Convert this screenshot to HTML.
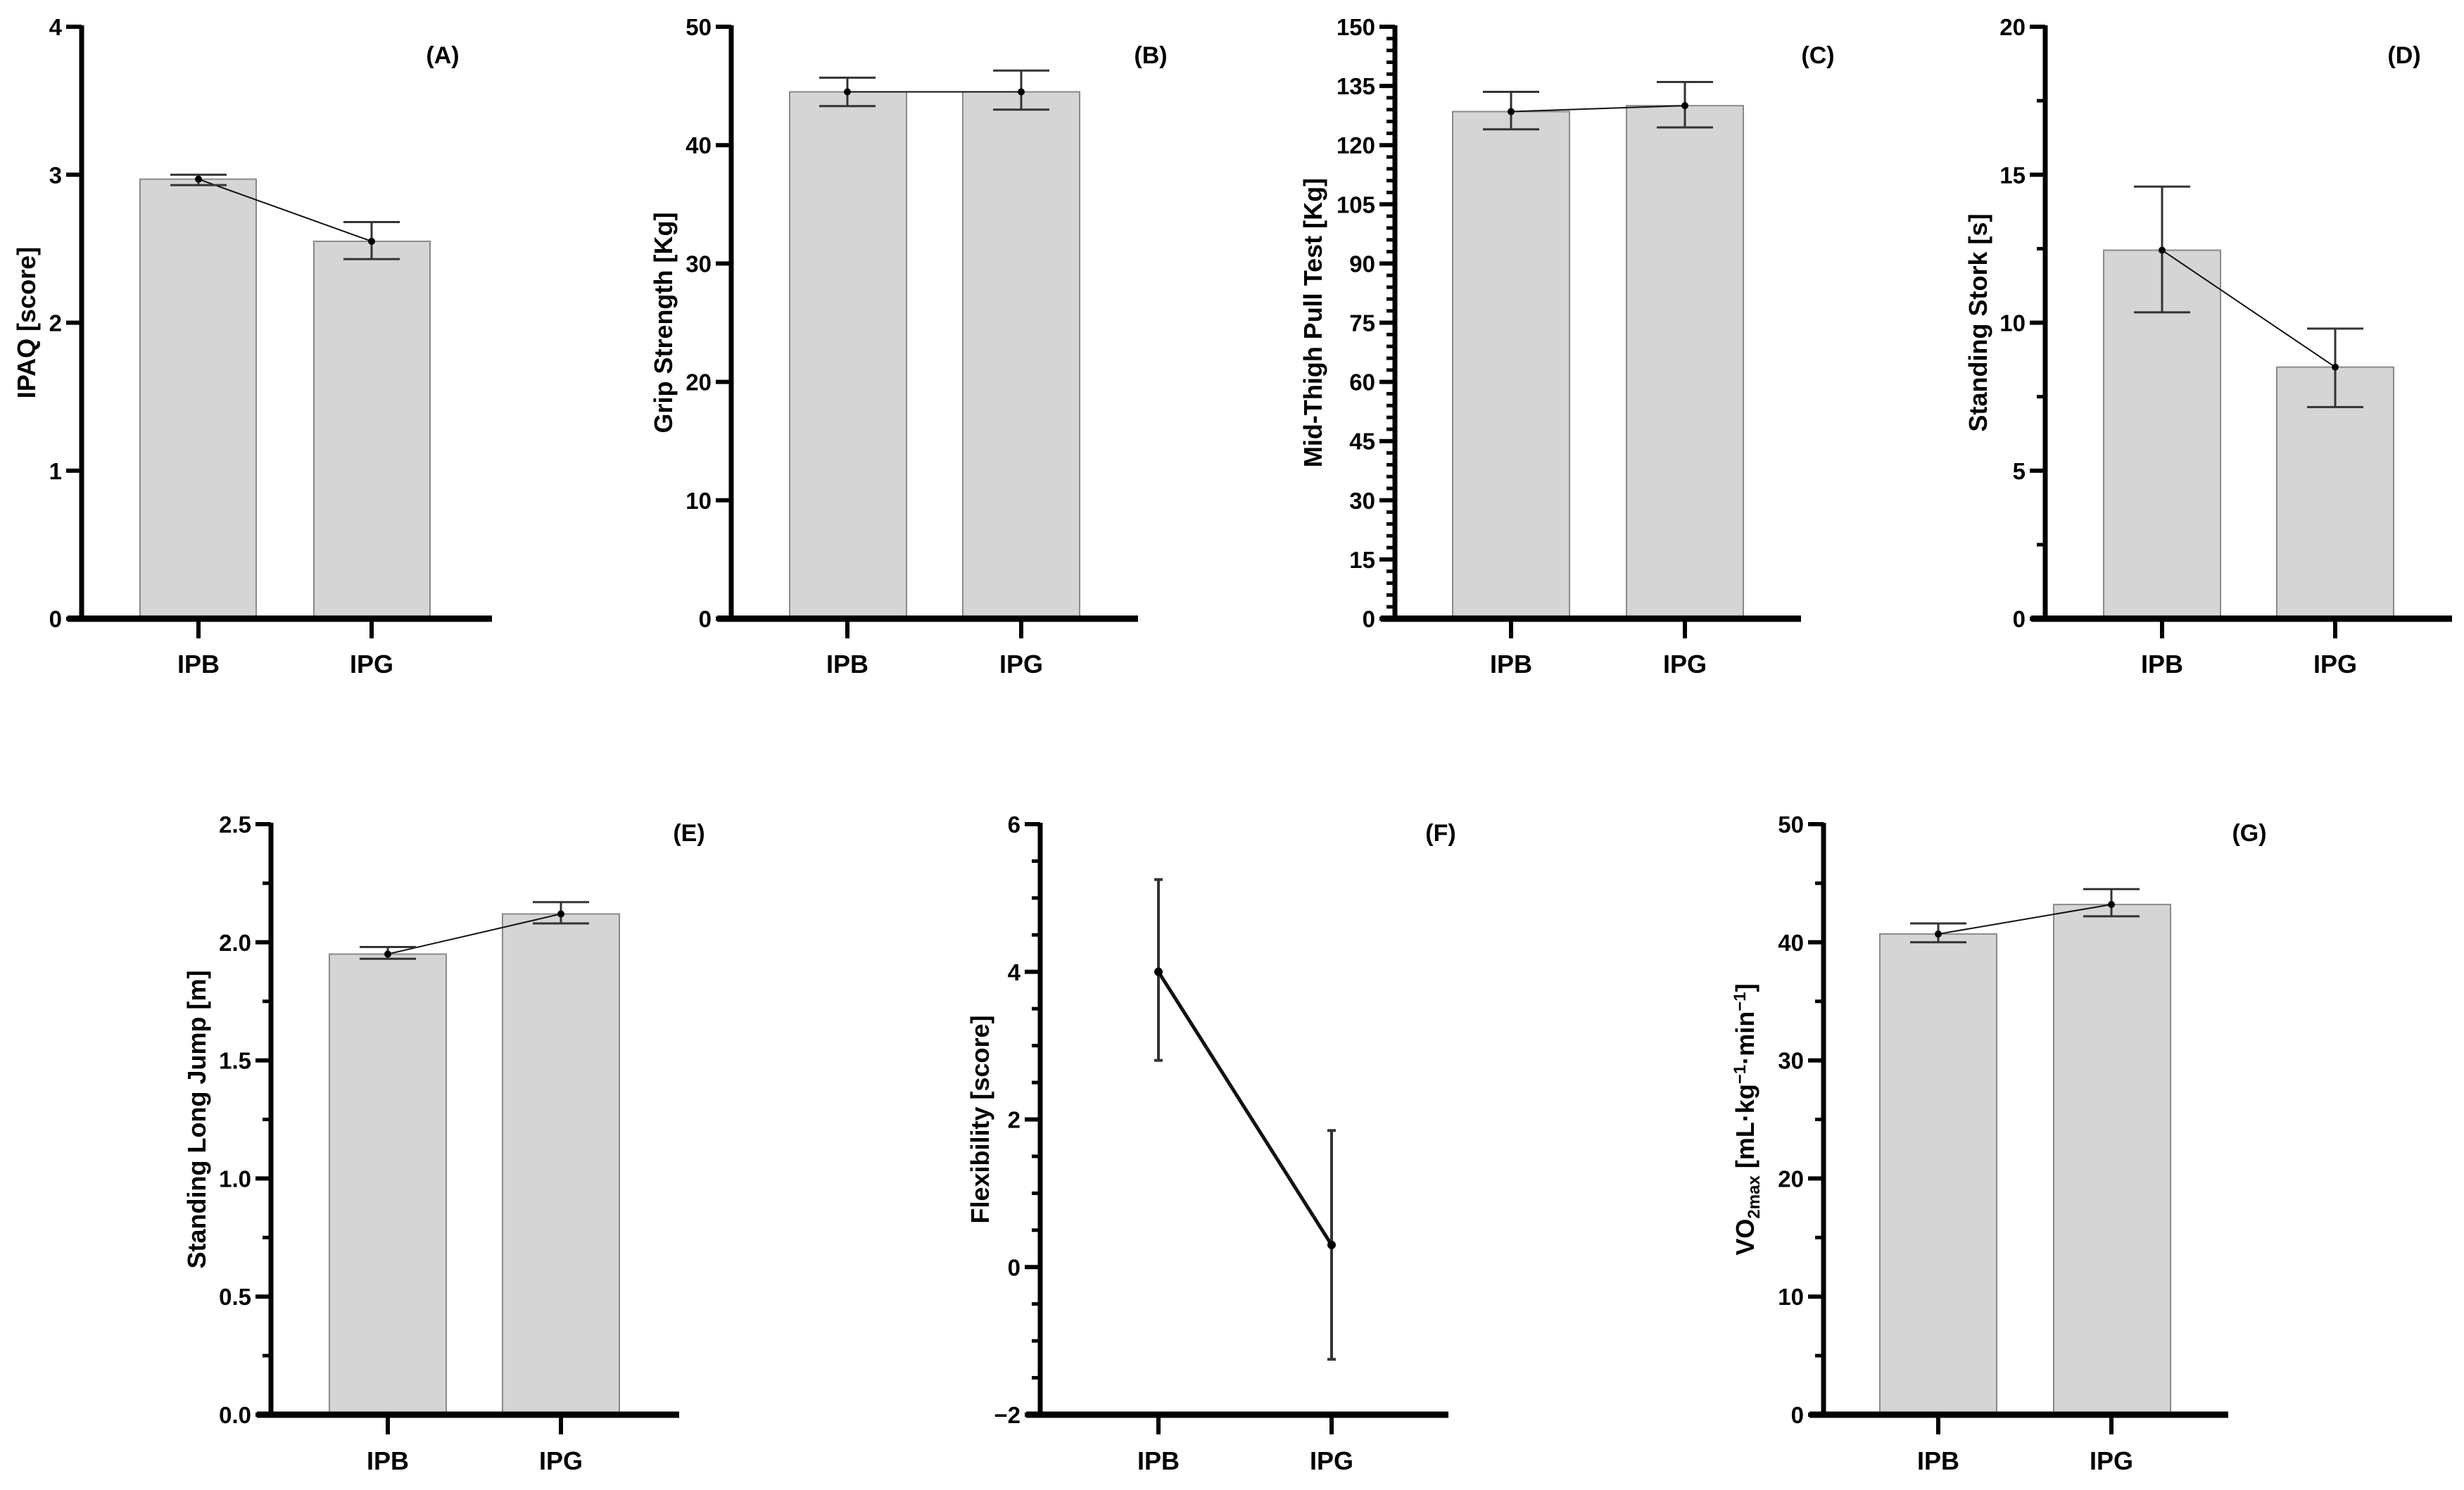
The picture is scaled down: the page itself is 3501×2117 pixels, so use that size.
<!DOCTYPE html>
<html><head><meta charset="utf-8"><style>
html,body{margin:0;padding:0;background:#fff;}
svg text{font-family:"Liberation Sans",Arial,sans-serif;font-weight:bold;fill:#000;}
</style></head><body>
<svg id="fig" xmlns="http://www.w3.org/2000/svg" width="3501" height="2112" viewBox="0 0 3501 2112"></svg>
<script>
const categories = ["IPB","IPG"];
const labelsP = ["(A)","(B)","(C)","(D)","(E)","(F)","(G)"];
const titlesP = ["IPAQ [score]","Grip Strength [Kg]","Mid-Thigh Pull Test [Kg]","Standing Stork [s]","Standing Long Jump [m]","Flexibility [score]","VO2max"];
const meanA=[2.97,2.55], loA=[2.93,2.43], hiA=[3.00,2.68];
const meanB=[44.5,44.5], loB=[43.3,43.0], hiB=[45.7,46.3];
const meanC=[128.5,130.0], loC=[124.0,124.5], hiC=[133.5,136.0];
const meanD=[12.45,8.5], loD=[10.35,7.15], hiD=[14.6,9.8];
const meanE=[1.95,2.12], loE=[1.93,2.08], hiE=[1.98,2.17];
const meanF=[4.0,0.3], loF=[2.8,-1.25], hiF=[5.25,1.85];
const meanG=[40.7,43.2], loG=[40.0,42.2], hiG=[41.6,44.5];
const ticksA=[0,1,2,3,4], ticksB=[0,10,20,30,40,50], ticksC=[0,15,30,45,60,75,90,105,120,135,150];
const ticksD=[0,5,10,15,20], ticksE=["0.0","0.5","1.0","1.5","2.0","2.5"], ticksF=["−2","0","2","4","6"], ticksG=[0,10,20,30,40,50];

const NS="http://www.w3.org/2000/svg", svg=document.getElementById('fig');
function el(t,a,p){const e=document.createElementNS(NS,t);for(const k in a)e.setAttribute(k,a[k]);(p||svg).appendChild(e);return e;}

const panels=[
 {i:0,ax:116,end:699,top:38,base:879,min:0,max:4,ticks:ticksA,minor:0,mean:meanA,lo:loA,hi:hiA,bars:true,bx:[199,446],bw:165,tx:[282,528],lx:629,ly:78,lineW:2},
 {i:1,ax:1039,end:1617,top:38,base:879,min:0,max:50,ticks:ticksB,minor:0,mean:meanB,lo:loB,hi:hiB,bars:true,bx:[1122,1368],bw:166,tx:[1204,1451],lx:1635,ly:78,lineW:2},
 {i:2,ax:1982,end:2559,top:38,base:879,min:0,max:150,ticks:ticksC,minor:3,mean:meanC,lo:loC,hi:hiC,bars:true,bx:[2064,2311],bw:166,tx:[2147,2394],lx:2583,ly:78,lineW:2},
 {i:3,ax:2906,end:3484,top:38,base:879,min:0,max:20,ticks:ticksD,minor:2.5,mean:meanD,lo:loD,hi:hiD,bars:true,bx:[2989,3235],bw:166,tx:[3072,3318],lx:3416,ly:78,lineW:2},
 {i:4,ax:385,end:965,top:1171,base:2010,min:0,max:2.5,ticks:ticksE,minor:0.25,mean:meanE,lo:loE,hi:hiE,bars:true,bx:[468,714],bw:166,tx:[551,797],lx:979,ly:1183,lineW:2},
 {i:5,ax:1478,end:2058,top:1171,base:2010,min:-2,max:6,ticks:ticksF,minor:0.5,mean:meanF,lo:loF,hi:hiF,bars:false,tx:[1646,1892],lx:2047,ly:1183,lineW:5},
 {i:6,ax:2591,end:3166,top:1171,base:2010,min:0,max:50,ticks:ticksG,minor:5,mean:meanG,lo:loG,hi:hiG,bars:true,bx:[2671,2918],bw:166,tx:[2754,3000],lx:3196,ly:1183,lineW:2}
];
const titleX=[38,943,1866,2811,280,1393,2480];

panels.forEach(p=>{
  const g=el('g',{});
  
  
  const y=v=>p.base-(v-p.min)/(p.max-p.min)*(p.base-p.top);
  if(p.bars){p.mean.forEach((m,k)=>{
    const r=el('rect',{x:p.bx[k],y:y(m),width:p.bw,height:p.base-y(m),fill:'#d5d5d5',stroke:'#8a8a8a','stroke-width':2},g);
    
    
  });}
  const ln=el('line',{x1:p.tx[0],y1:y(p.mean[0]),x2:p.tx[1],y2:y(p.mean[1]),stroke:'#111','stroke-width':p.lineW},g);
  
  
  p.mean.forEach((m,k)=>{
    const cx=p.tx[k], cw=p.bars?40:6;
    const eg=el('g',{stroke:'#333','stroke-width':p.bars?3:4},g);
    
    
    el('line',{x1:cx,y1:y(p.lo[k]),x2:cx,y2:y(p.hi[k])},eg);
    el('line',{x1:cx-cw,y1:y(p.lo[k]),x2:cx+cw,y2:y(p.lo[k])},eg);
    el('line',{x1:cx-cw,y1:y(p.hi[k]),x2:cx+cw,y2:y(p.hi[k])},eg);
    const d=el('circle',{cx:cx,cy:y(m),r:p.bars?5:6,fill:'#000'},g);
    
    
  });
  const ya=el('line',{x1:p.ax,y1:p.top-2,x2:p.ax,y2:p.base+4,stroke:'#000','stroke-width':7},g);
  
  
  const xa=el('line',{x1:p.ax-20,y1:p.base,x2:p.end,y2:p.base,stroke:'#000','stroke-width':9},g);
  
  
  if(p.minor){for(let v=p.min;v<=p.max+1e-9;v+=p.minor){el('line',{x1:p.ax-12,y1:y(v),x2:p.ax,y2:y(v),stroke:'#000','stroke-width':5},g);}}
  p.ticks.forEach(t=>{
    const v=parseFloat(String(t).replace('−','-'));
    el('line',{x1:p.ax-22,y1:y(v),x2:p.ax,y2:y(v),stroke:'#000','stroke-width':6},g);
    const tl=el('text',{x:p.ax-28,y:y(v)+12,'text-anchor':'end','font-size':33},g);
    tl.textContent=t;
    
    
  });
  categories.forEach((c,k)=>{
    el('line',{x1:p.tx[k],y1:p.base,x2:p.tx[k],y2:p.base+28,stroke:'#000','stroke-width':6},g);
    const t=el('text',{x:p.tx[k],y:(p.i<4?943:2075)+13,'text-anchor':'middle','font-size':36},g);
    t.textContent=c;
    
    
  });
  const cy=(p.top+p.base)/2;
  const tt=el('text',{x:0,y:0,'text-anchor':'middle','font-size':36,transform:`translate(${titleX[p.i]+12},${cy}) rotate(-90)`},g);
  if(p.i===6){tt.innerHTML='VO<tspan font-size="24" dy="8">2max</tspan><tspan dy="-8"> [mL·kg</tspan><tspan font-size="24" dy="-12">−1</tspan><tspan dy="12">·min</tspan><tspan font-size="24" dy="-12">−1</tspan><tspan dy="12">]</tspan>';}
  else tt.textContent=titlesP[p.i];
  
  
  const pl=el('text',{x:p.lx,y:p.ly+12,'text-anchor':'middle','font-size':34},g);
  pl.textContent=labelsP[p.i];
  
  
});
</script>
</body></html>
